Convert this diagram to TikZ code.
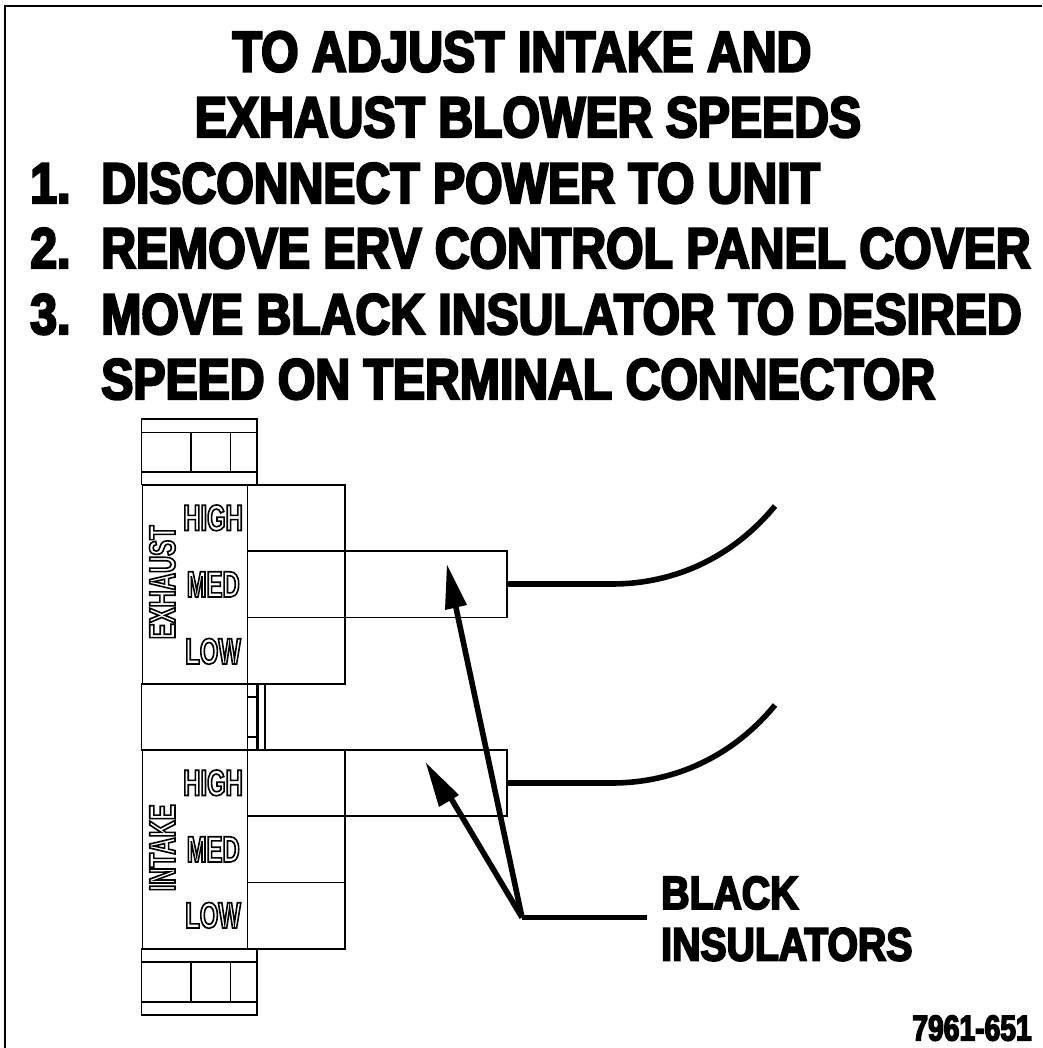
\documentclass[tikz,border=0pt]{standalone}
\usepackage{fontspec}
\setmainfont{Liberation Sans}
\newfontfamily\boldtext{Liberation Sans Bold}[FakeBold=4,FakeStretch=0.84]
\newfontfamily\calloutfont{Liberation Sans Bold}[FakeBold=4,FakeStretch=0.84]
\newfontfamily\numfont{Liberation Sans Bold}[FakeBold=4,FakeStretch=0.785]
\newfontfamily\plainbold{Liberation Sans Bold}[FakeStretch=0.65]
\newcommand{\outl}[1]{\special{pdf:code q 1 Tr 1.2 w}#1\special{pdf:code Q}}
\tikzset{
  x=0.75pt,y=-0.75pt,
  thin box/.style={draw=black,line width=1.25pt,fill=none},
  big/.style={inner sep=0pt,font=\boldtext\fontsize{43}{43}\selectfont,anchor=base west},
  callout/.style={inner sep=0pt,font=\calloutfont\fontsize{35}{35}\selectfont,anchor=base west},
  lab/.style={inner sep=0pt,font=\plainbold\fontsize{27.5}{27.5}\selectfont,anchor=base west},
  lead/.style={line width=4.2pt,draw=black},
  tip/.style={fill=black,draw=none},
}
\begin{document}
\begin{tikzpicture}
\useasboundingbox (0,0) rectangle (1042,1048);
\fill[white] (0,0) rectangle (1042,1048);
\draw[black,line width=1.4pt] (1042,6) -- (5,6) -- (5,1048);
% title
\node[big,anchor=base] (t1) at (522,71.5) {TO ADJUST INTAKE AND};
\node[big,anchor=base] (t2) at (528,137) {EXHAUST BLOWER SPEEDS};
\node[big] (n1) at (30,203) {1.};
\node[big] (s1) at (101,203) {DISCONNECT POWER TO UNIT};
\node[big] (n2) at (30,268) {2.};
\node[big] (s2) at (101,268) {REMOVE ERV CONTROL PANEL COVER};
\node[big] (n3) at (30,334) {3.};
\node[big] (s3) at (101,334) {MOVE BLACK INSULATOR TO DESIRED};
\node[big] (s4) at (101,399) {SPEED ON TERMINAL CONNECTOR};
% top block
\draw[thin box] (141.5,419) rectangle (257,484.5);
\draw[thin box] (141.5,432.5) -- (257,432.5) (141.5,472) -- (257,472) (191,432.5) -- (191,472) (230.5,432.5) -- (230.5,472);
% exhaust
\draw[thin box] (142.5,485) rectangle (247.5,684);
\draw[thin box] (247.5,485) rectangle (345,551);
\draw[thin box] (247.5,551) rectangle (345,617.5);
\draw[thin box] (247.5,617.5) rectangle (345,684);
\draw[thin box] (345,551) rectangle (507,617.5);
% middle
\draw[thin box] (141.5,684) rectangle (247.5,750);
\draw[thin box] (247.5,684) rectangle (257,750);
\draw[thin box] (247.5,697) -- (257,697) (247.5,737) -- (257,737);
\draw[thin box] (257,684) -- (265,684) -- (265,750);
\draw[thin box] (258.5,684) -- (258.5,750);
% intake
\draw[thin box] (142.5,750) rectangle (247.5,949);
\draw[thin box] (247.5,750) rectangle (345,816);
\draw[thin box] (247.5,816) rectangle (345,882.5);
\draw[thin box] (247.5,882.5) rectangle (345,949);
\draw[thin box] (345,750) rectangle (507,816);
% bottom block
\draw[thin box] (141.5,949) rectangle (257,1015);
\draw[thin box] (141.5,962) -- (257,962) (141.5,1002) -- (257,1002) (191,962) -- (191,1002) (230.5,962) -- (230.5,1002);
% labels
\node[lab] (h1) at (183,530.5) {\outl{HIGH}};
\node[lab] (m1) at (186.5,597) {\outl{MED}};
\node[lab] (l1) at (185,664) {\outl{LOW}};
\node[lab,rotate=90] (e1) at (175,639.5) {\outl{EXHAUST}};
\node[lab] (h2) at (183,795.5) {\outl{HIGH}};
\node[lab] (m2) at (186.5,862) {\outl{MED}};
\node[lab] (l2) at (185,928) {\outl{LOW}};
\node[lab,rotate=90] (e2) at (175,891.5) {\outl{INTAKE}};
% wires
\coordinate (w1) at (507,584);
\coordinate (w2) at (507,783);
\coordinate (we1) at (775,506);
\coordinate (we2) at (775,705);
\draw[lead] (w1) -- (612,584) .. controls (675,584) and (733,557) .. (we1);
\draw[lead] (w2) -- (612,783) .. controls (675,783) and (733,756) .. (we2);
% leaders
\coordinate (j) at (522,917.5);
\coordinate (je) at (647,917.5);
\coordinate (a1) at (447,565);
\coordinate (a2) at (426,763);
\draw[lead] (je) -- (j);
\draw[lead] (j) -- (455,603);
\draw[lead] (j) -- (449,795);
\fill[tip] (a1) -- (467,605) -- (445,610) -- cycle;
\fill[tip] (a2) -- (459,795) -- (439,807) -- cycle;
% callout
\node[callout] (b1) at (661,909) {BLACK};
\node[callout] (b2) at (661,960.5) {INSULATORS};
\node[inner sep=0pt,anchor=base east,font=\numfont\fontsize{27}{27}\selectfont] (c) at (1032,1040.5) {7961-651};
\end{tikzpicture}
\end{document}
